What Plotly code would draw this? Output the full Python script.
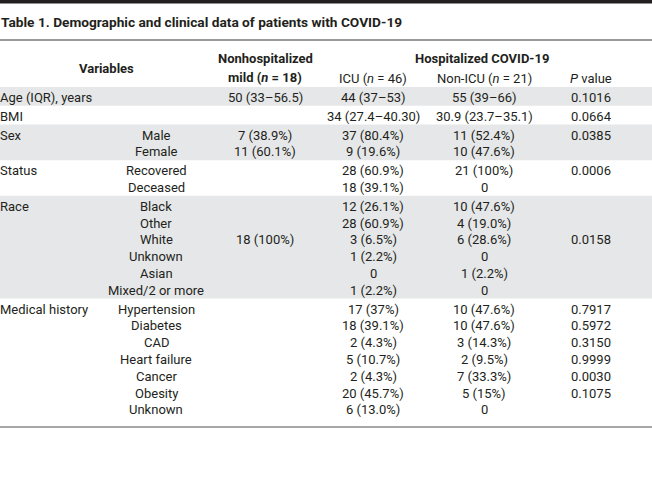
import plotly.graph_objects as go

title = "Table 1. Demographic and clinical data of patients with COVID-19"
variables = ["Age (IQR), years", "BMI", "Sex", "Status", "Race", "Medical history"]
subgroups = [
    [""], [""],
    ["Male", "Female"],
    ["Recovered", "Deceased"],
    ["Black", "Other", "White", "Unknown", "Asian", "Mixed/2 or more"],
    ["Hypertension", "Diabetes", "CAD", "Heart failure", "Cancer", "Obesity", "Unknown"],
]
nonhosp = [
    ["50 (33–56.5)"], [""],
    ["7 (38.9%)", "11 (60.1%)"],
    ["", ""],
    ["", "", "18 (100%)", "", "", ""],
    ["", "", "", "", "", "", ""],
]
icu = [
    ["44 (37–53)"], ["34 (27.4–40.30)"],
    ["37 (80.4%)", "9 (19.6%)"],
    ["28 (60.9%)", "18 (39.1%)"],
    ["12 (26.1%)", "28 (60.9%)", "3 (6.5%)", "1 (2.2%)", "0", "1 (2.2%)"],
    ["17 (37%)", "18 (39.1%)", "2 (4.3%)", "5 (10.7%)", "2 (4.3%)", "20 (45.7%)", "6 (13.0%)"],
]
nonicu = [
    ["55 (39–66)"], ["30.9 (23.7–35.1)"],
    ["11 (52.4%)", "10 (47.6%)"],
    ["21 (100%)", "0"],
    ["10 (47.6%)", "4 (19.0%)", "6 (28.6%)", "0", "1 (2.2%)", "0"],
    ["10 (47.6%)", "10 (47.6%)", "3 (14.3%)", "2 (9.5%)", "7 (33.3%)", "5 (15%)", "0"],
]
pvals = [
    ["0.1016"], ["0.0664"],
    ["0.0385", ""],
    ["0.0006", ""],
    ["", "", "0.0158", "", "", ""],
    ["0.7917", "0.5972", "0.3150", "0.9999", "0.0030", "0.1075", ""],
]

W, H = 652, 503
FONT = "Roboto"
TXT = "#231f20"
GRAY = "#e6e7e8"
FS = 13

col_x = [0, 156, 265, 373, 484, 591]
L = 16.8
top0 = 87

fig = go.Figure()
fig.update_xaxes(range=[0, W], visible=False, fixedrange=True)
fig.update_yaxes(range=[H, 0], visible=False, fixedrange=True)

shapes = []
ann = []

def txt(x, y, s, anchor="center", size=FS, bold=False, xshift=0):
    if bold:
        s = "<b>" + s + "</b>"
    ann.append(dict(x=x, y=y, text=s, xref="x", yref="y", showarrow=False,
                    xanchor=anchor, yanchor="middle", xshift=xshift,
                    font=dict(family=FONT, size=size, color=TXT)))

# top black bar
shapes.append(dict(type="rect", x0=0, x1=W, y0=0, y1=3.5, fillcolor="#231f20", line_width=0, layer="below"))
txt(0, 22, title, anchor="left", size=13.7, bold=True, xshift=-1)
shapes.append(dict(type="line", x0=0, x1=W, y0=40, y1=40, line=dict(color="#777", width=1.3)))

# header
txt(106, 68, "Variables", bold=True)
txt(col_x[2], 58, "Nonhospitalized", bold=True)
txt(col_x[2], 77, "mild (<i>n</i> = 18)", bold=True)
txt(482, 58, "Hospitalized COVID-19", bold=True)
txt(col_x[3], 78, "ICU (<i>n</i> = 46)")
txt(col_x[4], 78, "Non-ICU (<i>n</i> = 21)")
txt(col_x[5], 78, "<i>P</i> value")

top = top0
for gi, var in enumerate(variables):
    n = len(subgroups[gi])
    h = 2 + n * L
    if gi % 2 == 0:
        shapes.append(dict(type="rect", x0=0, x1=W, y0=top, y1=top + h, fillcolor=GRAY,
                           line_width=0, layer="below"))
    txt(col_x[0], top + 10.4, var, anchor="left", xshift=-2)
    for i in range(n):
        y = top + 10.4 + i * L
        for ci, col in enumerate([subgroups, nonhosp, icu, nonicu, pvals]):
            s = col[gi][i]
            if s:
                txt(col_x[ci + 1], y, s)
    top += h

shapes.append(dict(type="line", x0=0, x1=W, y0=427, y1=427, line=dict(color="#888", width=1.5)))

fig.update_layout(width=W, height=H, margin=dict(l=0, r=0, t=0, b=0),
                  paper_bgcolor="white", plot_bgcolor="white",
                  shapes=shapes, annotations=ann, showlegend=False)
fig.write_html("out.html", config={"displayModeBar": False},
               post_script="document.body.style.margin='0';document.body.style.overflow='hidden';")
